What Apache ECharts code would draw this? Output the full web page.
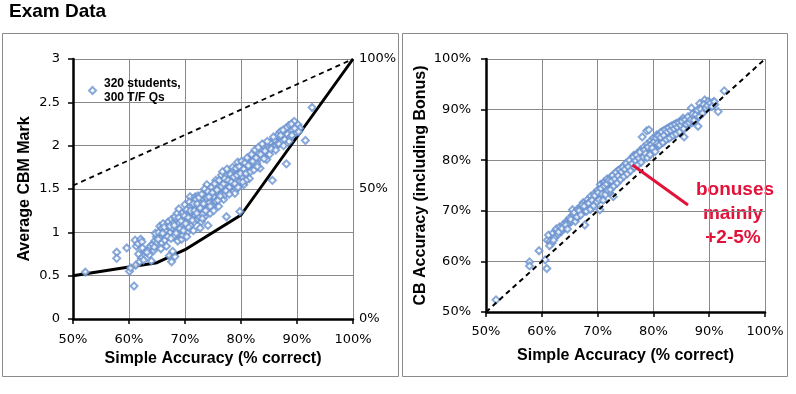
<!DOCTYPE html>
<html>
<head>
<meta charset="utf-8">
<script src="https://cdn.jsdelivr.net/npm/echarts@6/dist/echarts.min.js"></script>
<style>
html,body{margin:0;padding:0;background:#fff;}
#chart{width:796px;height:394px;}
</style>
</head>
<body>
<div id="chart"></div>
<script>
// ---------- DATA ----------
const chartTitle = 'Exam Data';
const xTickLabels = ['50%','60%','70%','80%','90%','100%'];
const markTickLabels = ['0','0.5','1','1.5','2','2.5','3'];
const pctRightTickLabels = ['0%','50%','100%'];
const cbTickLabels = ['50%','60%','70%','80%','90%','100%'];
const legendName = '320 students,\n300 T/F Qs';
const noteLines = ['bonuses','mainly','+2-5%'];

// left chart: simple accuracy (%) vs average CBM mark
const leftPoints = [
[52.2,0.54],[57.8,0.77],[57.8,0.70],[59.6,0.82],[60.1,0.55],[60.3,0.59],[60.9,0.38],
[61.1,0.91],[61.3,0.84],[61.6,0.87],[62.1,0.92],[62.3,0.89],[61.7,0.75],[62.2,0.70],[61.9,0.66],[62.6,0.68],[61.2,0.62],[62.8,0.78],
[63.4,0.80],[63.8,0.84],[64.2,0.86],[64.6,0.90],[63.6,0.74],[64.9,0.95],[64.4,0.79],[64.0,0.67],[64.7,0.99],[65.0,0.88],
[65.3,1.00],[65.6,0.93],[65.5,1.07],[65.9,1.05],[66.2,0.97],[66.5,1.02],[66.8,1.08],[65.8,0.88],[66.4,0.91],[67.0,1.12],[66.7,0.84],[67.2,0.73],[67.6,0.66],[68.2,0.72],[67.4,1.00],[66.1,1.10],[67.6,1.15],
[67.8,0.78],[67.7,1.05],[68.0,0.95],[68.3,1.15],[68.5,1.02],[68.8,1.10],[69.0,0.98],[69.4,1.22],[69.5,1.08],[69.8,1.14],[68.2,1.18],[68.7,0.90],[69.4,0.92],[70.0,1.05],[70.0,1.32],[68.6,1.22],[67.9,1.10],[69.1,1.04],[70.2,1.18],[70.4,1.00],[69.6,0.97],[68.9,1.17],
[70.5,1.12],[70.7,1.22],[70.9,1.41],[71.0,1.08],[71.2,1.18],[71.4,1.28],[71.6,1.12],[71.8,1.20],[71.8,1.41],[72.0,1.30],[72.0,1.36],[72.2,1.15],[72.4,1.25],[72.6,1.35],[72.8,1.22],[73.0,1.30],[70.9,1.30],[71.5,1.02],[72.3,1.42],[72.9,1.12],[70.3,1.26],[71.9,1.38],[72.7,1.05],[71.1,1.24],[72.5,1.18],[70.6,1.06],
[73.2,1.38],[73.4,1.26],[73.6,1.45],[73.8,1.32],[74.0,1.40],[74.2,1.28],[74.4,1.48],[74.5,1.49],[74.6,1.36],[74.8,1.42],[75.0,1.52],[75.2,1.34],[75.4,1.46],[75.6,1.40],[75.8,1.55],[76.0,1.45],[73.5,1.18],[74.5,1.22],[75.5,1.60],[73.9,1.55],[76.0,1.30],[74.1,1.08],[73.1,1.21],[74.9,1.30],[75.1,1.41],[73.7,1.36],[74.3,1.34],
[76.2,1.50],[76.4,1.58],[76.6,1.44],[76.8,1.62],[77.0,1.52],[77.2,1.66],[77.4,1.56],[77.6,1.48],[77.8,1.70],[78.0,1.60],[78.2,1.54],[78.4,1.66],[78.6,1.58],[78.8,1.72],[79.0,1.62],[77.4,1.18],[78.3,1.70],[79.4,1.81],[79.2,1.50],[76.9,1.38],[78.9,1.45],[76.5,1.66],[77.1,1.43],[77.9,1.52],
[79.5,1.66],[79.7,1.58],[80.0,1.72],[80.2,1.64],[80.4,1.78],[80.6,1.68],[80.8,1.74],[81.0,1.80],[81.2,1.70],[81.4,1.84],[81.6,1.76],[81.8,1.82],[82.0,1.88],[79.8,1.24],[80.5,1.55],[81.5,1.62],[82.2,1.78],[80.9,1.60],
[82.4,1.84],[82.6,1.90],[82.8,1.80],[83.0,1.92],[83.3,1.86],[83.6,1.96],[83.9,1.88],[84.2,1.98],[84.5,1.92],[84.8,2.00],[84.0,1.92],[85.0,1.97],[83.4,1.74],[84.6,1.84],
[85.3,2.04],[85.6,1.60],[85.6,1.98],[86.0,2.06],[86.3,2.00],[86.6,2.03],[86.9,2.10],[87.0,2.16],[87.3,2.05],[87.8,2.07],[88.1,1.79],[88.3,2.13],[88.5,2.23],[88.0,2.20],[86.5,2.12],
[88.8,2.10],[89.2,2.18],[89.5,2.28],[89.8,2.15],[90.0,2.20],[90.2,2.24],[90.5,2.20],[91.5,2.06],[92.7,2.44],[89.0,2.25],
[66.3,1.06],[66.9,0.95],[67.3,1.07],[67.5,0.93],[68.1,1.08],[68.4,0.99],[68.9,1.27],[69.3,1.13],[69.7,1.02],[69.9,1.19],[70.1,1.10],[70.3,0.95],[70.6,1.17],[70.8,1.35],[71.0,1.25],[71.3,1.14],[71.5,1.33],[71.7,1.25],[72.1,1.22],[72.2,1.33],[72.5,1.40],[72.7,1.28],[73.0,1.44],[73.1,1.16],[73.3,1.33],[73.5,1.50],[73.7,1.25],[73.9,1.40],[74.1,1.47],[74.3,1.41],[74.5,1.30],[74.7,1.52],[74.9,1.46],[75.1,1.25],[75.3,1.56],[75.5,1.36],[75.7,1.49],[75.9,1.37],[76.1,1.60],[76.3,1.42],[76.5,1.53],[76.7,1.70],[76.9,1.56],[77.1,1.62],[77.3,1.48],[77.5,1.73],[77.7,1.60],[77.9,1.44],[78.1,1.67],[78.3,1.58],[78.5,1.75],[78.7,1.64],[78.9,1.56],[79.1,1.74],[79.3,1.66],[79.5,1.52],[79.7,1.76],[79.9,1.68],[80.1,1.82],[80.3,1.58],[80.5,1.73],[80.7,1.80],[80.9,1.68],[81.1,1.86],[81.3,1.77],[81.7,1.70],[81.9,1.90],[82.1,1.82],[82.3,1.72],[82.5,1.95],[82.7,1.86],[82.9,1.76],[83.1,1.98],[83.5,1.90],[83.8,2.02],[84.1,1.85],[84.3,1.94],[84.7,2.05],[85.1,1.90],[85.4,1.96],[85.8,2.10],[86.2,1.95],[86.8,2.02],[87.1,2.12],[87.5,2.18],[87.6,2.00],[88.6,2.05],[89.1,2.12],[89.6,2.20],[90.3,2.16],[64.5,0.83],[63.2,0.77],[65.2,0.92],[62.4,0.82],[66.0,0.99],[65.7,0.81]
];
const maxMarkLine = [[50,1.54],[100,3]];
const calibratedLine = [[50,0.5],[60,0.6],[65,0.65],[70,0.8],[80,1.2],[100,3]];

// right chart: simple accuracy (%) vs CB accuracy incl. bonus (%)
const rightPoints = [
[51.8,52.4],[57.8,59.9],[57.8,59.1],[59.5,62.1],[60.6,60.3],[60.9,58.6],
[61.0,64.2],[61.2,65.2],[61.5,64.0],[61.8,63.6],[62.0,65.6],[62.3,64.7],[62.7,65.9],[62.6,66.4],[62.9,65.3],[63.2,66.8],[63.5,65.9],[63.8,67.2],[64.1,66.6],[64.4,67.9],[64.7,67.8],[64.9,67.5],[65.0,68.6],[65.3,67.9],[65.6,69.1],[65.5,70.2],[65.9,68.6],[66.2,69.5],[66.4,70.3],[66.6,68.9],[66.9,70.6],[67.1,69.8],[67.4,70.5],[67.4,71.6],[67.7,67.2],[67.8,70.0],[68.0,71.3],[68.2,72.2],[68.3,70.6],[68.6,71.8],[68.8,72.9],[68.9,70.9],[69.2,72.4],[69.4,73.4],[69.6,71.6],[69.8,72.9],[70.0,74.1],[70.2,73.0],[70.4,70.2],[70.4,73.5],[70.5,75.2],[70.7,72.4],[70.9,74.2],[71.1,75.6],[71.3,73.8],[71.3,75.7],[71.5,74.6],[71.7,76.3],[71.9,75.0],[72.1,73.6],[72.2,75.1],[72.4,76.7],[72.6,74.8],[72.8,72.8],[72.8,76.0],[73.0,77.2],[73.2,75.4],[73.4,76.6],[73.6,77.9],[73.8,76.1],[74.0,77.3],[74.2,78.4],[74.4,76.7],[74.6,77.4],[74.8,78.9],[75.0,77.6],[75.2,79.2],[75.4,78.1],[75.6,79.5],[75.8,78.3],[76.0,80.1],[76.1,78.9],[76.3,79.6],[76.5,81.0],[76.7,79.2],[76.9,80.4],[77.1,81.3],[77.3,79.9],[77.5,80.8],[77.7,82.0],[77.9,80.3],[78.0,84.6],[78.1,81.5],[78.3,82.6],[78.5,80.9],[78.7,82.1],[78.8,85.8],[78.9,83.2],[79.1,81.4],[79.2,86.0],[79.3,82.7],[79.5,83.8],[79.7,81.9],[79.9,83.2],[80.0,84.4],[80.2,82.4],[80.4,83.7],[80.6,85.0],[80.8,82.8],[81.0,84.2],[81.2,85.4],[81.4,83.4],[81.6,84.6],[81.8,85.8],[82.0,83.8],[82.2,85.1],[82.4,86.2],[82.6,84.3],[82.8,85.5],[83.0,86.6],[83.2,84.7],[83.4,85.9],[83.6,86.9],[83.8,85.1],[84.0,86.3],[84.2,87.3],[84.4,85.5],[84.6,86.6],[84.8,87.6],[85.0,86.0],[85.3,88.3],[85.5,84.6],[85.2,86.9],[85.6,87.6],[85.8,86.4],[86.1,88.1],[86.3,87.0],[86.6,88.5],[86.8,90.3],[86.9,87.4],[87.2,88.8],[87.5,87.9],[87.7,89.6],[87.8,88.6],[88.0,86.7],[88.1,89.4],[88.3,91.2],[88.4,88.9],[88.7,89.8],[88.9,90.6],[89.2,91.9],[89.3,89.9],[89.5,90.9],[89.8,91.6],[90.0,90.4],[90.4,90.9],[90.7,91.4],[91.0,91.0],[91.6,89.6],[92.7,93.7],
[61.4,63.1],[62.1,64.2],[63.0,65.8],[63.6,66.5],[64.3,67.2],[64.6,66.4],[65.2,68.3],[65.8,69.6],[66.0,67.9],[66.3,68.8],[66.7,70.0],[67.0,69.2],[67.2,71.1],[67.6,70.9],[68.0,69.9],[68.4,71.5],[68.7,70.3],[69.0,72.1],[69.3,71.0],[69.5,73.0],[69.9,71.8],[70.1,73.6],[70.3,72.2],[70.6,74.4],[70.8,73.3],[71.0,72.1],[71.2,74.9],[71.4,73.2],[71.6,75.3],[71.8,74.1],[72.0,76.0],[72.3,74.2],[72.5,75.9],[72.7,77.0],[72.9,74.9],[73.1,76.3],[73.3,77.6],[73.5,75.5],[73.7,76.9],[73.9,78.1],[74.1,76.2],[74.3,77.7],[74.5,78.6],[74.7,76.8],[74.9,78.2],[75.1,79.4],[75.3,77.3],[75.5,78.7],[75.7,80.0],[75.9,77.9],[76.2,79.3],[76.4,80.6],[76.6,78.6],[76.8,79.9],[77.0,81.0],[77.2,79.1],[77.4,80.4],[77.6,81.6],[77.8,79.6],[78.2,80.6],[78.4,82.0],[78.6,81.3],[78.9,80.5],[79.0,82.6],[79.4,81.1],[79.6,83.1],[79.8,82.4],[80.1,83.6],[80.3,81.7],[80.5,84.4],[80.7,83.3],[80.9,84.8],[81.1,83.0],[81.3,84.5],[81.5,85.6],[81.7,83.5],[81.9,84.9],[82.1,86.0],[82.3,84.1],[82.5,85.6],[82.7,86.4],[82.9,84.4],[83.1,85.9],[83.3,86.8],[83.5,84.9],[83.7,86.2],[83.9,87.1],[84.1,85.2],[84.3,86.5],[84.5,87.4],[84.7,85.6],[84.9,86.9],[85.1,87.7],[85.4,86.2],[85.7,88.0],[85.9,87.1],[86.2,88.6],[86.4,87.4],[86.7,88.0],[87.0,89.1],[87.3,87.9],[87.6,89.0],[87.9,89.9],[88.2,88.6],[88.5,90.1],[88.8,89.3],[89.0,91.0],[89.4,90.3],[89.7,90.8],[90.2,91.3],[90.5,90.6],[90.9,91.6]
];
const diagonalLine = [[50,50],[100,100]];
const noteLeader = [[76.26,79.05],[86.2,71.15]];

// ---------- CHART ----------
const chart = echarts.init(document.getElementById('chart'), null, {renderer:'canvas'});
const tickFont = {fontFamily:'DejaVu Sans', fontSize:13, color:'#000'};
const nameFont = {fontFamily:'Liberation Sans', fontWeight:'bold', fontSize:16, color:'#000'};
const axisLineStyle = {show:true, lineStyle:{color:'#000', width:2.5}};
const tickStyle = {show:true, inside:false, length:5, lineStyle:{color:'#000', width:1.5}};
const gridLine = {show:true, lineStyle:{color:'#8a8a8a', width:1}};
const pointColor = '#6a92cf';

function labelFrom(arr, min, step){
  return function(v){ const i = Math.round((v - min)/step); return arr[i] !== undefined ? arr[i] : ''; };
}

const option = {
  backgroundColor:'#fff',
  animation:false,
  title:{
    text: chartTitle, left:9, top:2, padding:0,
    textStyle:{fontFamily:'Liberation Sans', fontWeight:'bold', fontSize:19, color:'#000'}
  },
  legend:{
    left:88, top:76, padding:0, itemWidth:7, itemHeight:7,
    data:[{name:legendName, icon:'emptyDiamond'}],
    textStyle:{fontFamily:'Liberation Sans', fontWeight:'bold', fontSize:12, color:'#000', lineHeight:14.5, padding:[0,0,0,3]},
    selectedMode:false
  },
  graphic:[
    {type:'rect', shape:{x:2.5, y:33.5, width:396, height:343}, style:{fill:'none', stroke:'#8a8a8a', lineWidth:1}, z:-1},
    {type:'rect', shape:{x:402.5, y:33.5, width:385, height:343}, style:{fill:'none', stroke:'#8a8a8a', lineWidth:1}, z:-1},
    {type:'text', x:735, y:190, style:{text:noteLines[0], font:'bold 19px "Liberation Sans"', fill:'#e3123a', textAlign:'center', textVerticalAlign:'middle'}},
    {type:'text', x:733, y:214, style:{text:noteLines[1], font:'bold 19px "Liberation Sans"', fill:'#e3123a', textAlign:'center', textVerticalAlign:'middle'}},
    {type:'text', x:733, y:238, style:{text:noteLines[2], font:'bold 19px "Liberation Sans"', fill:'#e3123a', textAlign:'center', textVerticalAlign:'middle'}}
  ],
  grid:[
    {left:73, top:59, width:280, height:260},
    {left:486, top:59, width:279, height:253}
  ],
  xAxis:[
    {gridIndex:0, type:'value', min:50, max:100, interval:10,
      axisLine:axisLineStyle, axisTick:tickStyle, splitLine:gridLine,
      axisLabel:Object.assign({margin:14, formatter:labelFrom(xTickLabels,50,10)}, tickFont),
      name:'Simple Accuracy (% correct)', nameLocation:'middle', nameGap:31, nameTextStyle:nameFont},
    {gridIndex:1, type:'value', min:50, max:100, interval:10,
      axisLine:axisLineStyle, axisTick:tickStyle, splitLine:gridLine,
      axisLabel:Object.assign({margin:13, formatter:labelFrom(xTickLabels,50,10)}, tickFont),
      name:'Simple Accuracy (% correct)', nameLocation:'middle', nameGap:36, nameTextStyle:nameFont}
  ],
  yAxis:[
    {gridIndex:0, type:'value', min:0, max:3, interval:0.5, position:'left',
      axisLine:axisLineStyle, axisTick:tickStyle, splitLine:gridLine,
      axisLabel:Object.assign({margin:13, formatter:labelFrom(markTickLabels,0,0.5)}, tickFont),
      name:'Average CBM Mark', nameLocation:'middle', nameGap:40, nameTextStyle:nameFont},
    {gridIndex:0, type:'value', min:0, max:3, interval:1.5, position:'right',
      axisLine:{show:false}, axisTick:{show:false}, splitLine:{show:false},
      axisLabel:Object.assign({margin:6, formatter:labelFrom(pctRightTickLabels,0,1.5)}, tickFont)},
    {gridIndex:1, type:'value', min:50, max:100, interval:10, position:'left',
      axisLine:axisLineStyle, axisTick:tickStyle, splitLine:gridLine,
      axisLabel:Object.assign({margin:15, formatter:labelFrom(cbTickLabels,50,10)}, tickFont),
      name:'CB Accuracy (including Bonus)', nameLocation:'middle', nameGap:57, nameTextStyle:nameFont}
  ],
  series:[
    {type:'line', name:'maxMark', xAxisIndex:0, yAxisIndex:0, data:maxMarkLine, symbol:'none',
      lineStyle:{color:'#000', width:1.8, type:[5,4]}, z:3},
    {type:'line', name:'calibrated', xAxisIndex:0, yAxisIndex:0, data:calibratedLine, symbol:'none',
      lineStyle:{color:'#000', width:3}, z:3},
    {type:'scatter', name:legendName, xAxisIndex:0, yAxisIndex:0, data:leftPoints,
      symbol:'emptyDiamond', symbolSize:7, itemStyle:{color:pointColor, borderColor:pointColor, borderWidth:1}, z:4},
    {type:'scatter', name:'right', xAxisIndex:1, yAxisIndex:2, data:rightPoints,
      symbol:'emptyDiamond', symbolSize:7, itemStyle:{color:pointColor, borderColor:pointColor, borderWidth:1}, z:4},
    {type:'line', name:'diag', xAxisIndex:1, yAxisIndex:2, data:diagonalLine, symbol:'none',
      lineStyle:{color:'#000', width:2, type:[5,4]}, z:5},
    {type:'line', name:'leader', xAxisIndex:1, yAxisIndex:2, data:noteLeader, symbol:'none',
      lineStyle:{color:'#e3123a', width:3}, z:6}
  ]
};
chart.setOption(option);
</script>
</body>
</html>
